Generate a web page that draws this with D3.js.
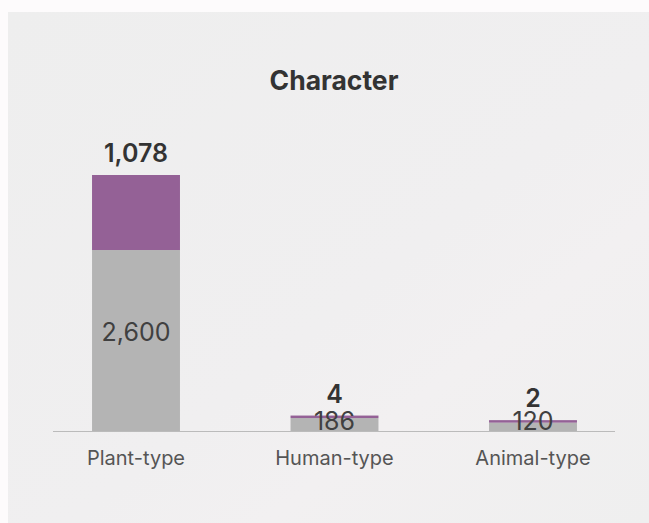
<!DOCTYPE html>
<html><head><meta charset="utf-8">
<script src="https://cdn.jsdelivr.net/npm/d3@7"></script>
<style>
html,body{margin:0;padding:0;background:#fdfbfc;}
svg{display:block;}
</style></head>
<body>
<svg id="c" width="649" height="523"></svg>
<script>
const categories = ["Plant-type", "Human-type", "Animal-type"];
const grayValues = [2600, 186, 120];
const purpleValues = [1078, 4, 2];
const title = "Character";

const svg = d3.select("#c");
const defs = svg.append("defs");
const g = defs.append("linearGradient").attr("id","bg").attr("x1","0").attr("y1","0").attr("x2","1").attr("y2","1");
g.append("stop").attr("offset","0").attr("stop-color","#eeeeee");
g.append("stop").attr("offset","0.55").attr("stop-color","#f0eff0");
g.append("stop").attr("offset","0.7").attr("stop-color","#f2f0f1");
g.append("stop").attr("offset","1").attr("stop-color","#efefef");

svg.append("rect").attr("x",8).attr("y",12).attr("width",641).attr("height",511).attr("fill","url(#bg)");

svg.append("text").attr("x",334).attr("y",90).attr("text-anchor","middle")
  .attr("font-family","Inter, 'Noto Sans', sans-serif").attr("font-weight",700)
  .attr("font-size",26.5).attr("fill","#333").text(title);

const base = 431;
const totals = grayValues.map((v,i)=>v+purpleValues[i]);
const y = d3.scaleLinear().domain([0, d3.max(totals)]).range([base, 175]);
const x = d3.scaleBand().domain(categories).range([36.75, 632.25]).paddingInner(0.557).paddingOuter(0.2785);

const data = categories.map((c,i)=>({c, g:grayValues[i], p:purpleValues[i]}));

const bars = svg.append("g");
data.forEach(d=>{
  const bx = x(d.c), bw = x.bandwidth();
  const gTop = y(d.g);
  bars.append("rect").attr("x",bx).attr("y",gTop).attr("width",bw).attr("height",base-gTop).attr("fill","#b4b4b4");
  let ph = y(0)-y(d.p);
  if (d.p>0 && ph<2.5) ph = 2.5;
  const pTop = gTop-ph;
  bars.append("rect").attr("x",bx).attr("y",pTop).attr("width",bw).attr("height",ph).attr("fill","#946196");
  d.pTop = pTop; d.gTop = gTop;
});

// axis line
svg.append("line").attr("x1",53).attr("x2",615).attr("y1",base+0.5).attr("y2",base+0.5)
  .attr("stroke","#bbbbbb").attr("stroke-width",1.2);

// gray labels
data.forEach(d=>{
  const h = base - d.gTop;
  const ly = h > 30 ? (d.gTop + base)/2 : base - 1;
  svg.append("text").attr("x",x(d.c)+x.bandwidth()/2).attr("y",ly).attr("text-anchor","middle")
    .attr("font-family","Inter, 'Noto Sans', sans-serif").attr("font-weight",400)
    .attr("font-size",25).attr("fill","#404040").text(d3.format(",")(d.g));
});
// purple labels (totals on top)
data.forEach(d=>{
  svg.append("text").attr("x",x(d.c)+x.bandwidth()/2).attr("y",d.pTop-13).attr("text-anchor","middle")
    .attr("font-family","Inter, 'Noto Sans', sans-serif").attr("font-weight",600)
    .attr("font-size",25).attr("fill","#333").text(d3.format(",")(d.p));
});
// category labels
data.forEach(d=>{
  svg.append("text").attr("x",x(d.c)+x.bandwidth()/2).attr("y",465).attr("text-anchor","middle")
    .attr("font-family","Inter, 'Noto Sans', sans-serif").attr("font-weight",400)
    .attr("font-size",20).attr("fill","#555").text(d.c);
});
</script>
</body></html>
